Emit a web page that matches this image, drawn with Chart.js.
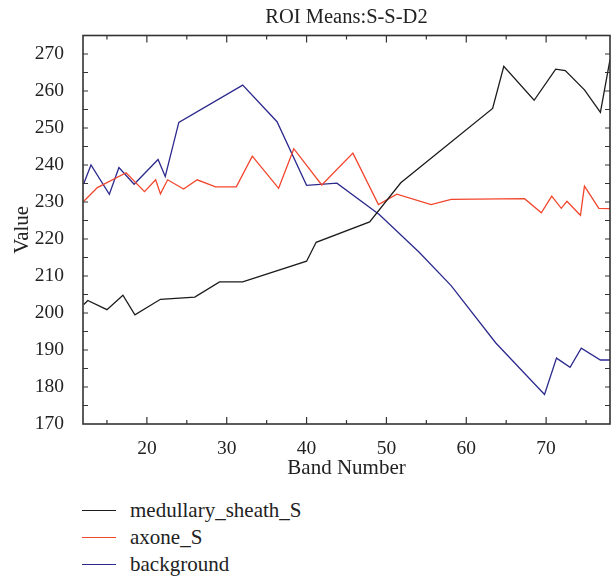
<!DOCTYPE html>
<html>
<head>
<meta charset="utf-8">
<script src="https://cdn.jsdelivr.net/npm/chart.js@4.4.1/dist/chart.umd.min.js"></script>
<style>
    body { margin: 0; background: #fff; }
    #wrap { position: relative; width: 611px; height: 580px; }
    #chartBox { position: absolute; left: 0; top: 0; width: 611px; height: 490px; }
    #legend { position: absolute; left: 82px; top: 497px; font-family: 'Liberation Serif', serif; font-size: 21px; color: #222; }
    #legend div { display: flex; align-items: center; height: 27px; }
    #legend span.swatch { display: inline-block; width: 34px; height: 0; border-top: 1.4px solid; margin-right: 14px; }
</style>
</head>
<body>
<div id="wrap">
    <div id="chartBox"><canvas id="roiChart"></canvas></div>
    <div id="legend"></div>
</div>
<script>
// band numbers / values
const sheathBands = [12.1, 12.6, 15.0, 17.0, 18.5, 21.7, 26.0, 29.1, 32.0, 40.0, 41.2, 47.9, 51.8, 63.3, 64.7, 68.5, 71.2, 72.4, 74.8, 76.8, 78.0];
const sheathValues = [202.3, 203.4, 200.9, 204.8, 199.5, 203.7, 204.3, 208.4, 208.4, 214.0, 219.1, 224.6, 235.2, 255.3, 266.7, 257.5, 265.9, 265.5, 260.3, 254.2, 268.5];

const axoneBands = [12.1, 13.8, 17.4, 19.7, 21.1, 21.7, 22.6, 24.6, 26.3, 28.6, 31.2, 33.2, 36.5, 38.4, 41.9, 45.8, 49.0, 51.3, 55.6, 58.1, 67.3, 69.4, 70.7, 71.9, 72.6, 74.3, 74.8, 76.6, 78.0];
const axoneValues = [230.2, 233.9, 237.9, 232.8, 236.0, 232.2, 236.0, 233.5, 236.0, 234.1, 234.1, 242.4, 233.7, 244.4, 234.6, 243.2, 229.3, 232.1, 229.3, 230.7, 230.9, 227.1, 231.6, 228.3, 230.2, 226.4, 234.3, 228.3, 228.2];

const backgroundBands = [12.1, 13.0, 15.3, 16.5, 18.4, 21.4, 22.3, 24.0, 32.0, 36.3, 40.0, 43.8, 49.1, 54.1, 58.1, 63.7, 69.8, 71.3, 73.0, 74.4, 76.8, 78.0];
const backgroundValues = [235.0, 240.0, 232.1, 239.3, 234.8, 241.5, 236.9, 251.5, 261.6, 251.7, 234.5, 235.1, 226.6, 216.4, 207.4, 191.9, 178.0, 187.8, 185.3, 190.5, 187.3, 187.3];

const xTickLabels = [20, 30, 40, 50, 60, 70];
const yTickLabels = [170, 180, 190, 200, 210, 220, 230, 240, 250, 260, 270];

const seriesNames = ['medullary_sheath_S', 'axone_S', 'background'];
const seriesColors = ['#1c1c1c', '#f2452c', '#2d2a8e'];

const serif = "'Liberation Serif', 'DejaVu Serif', serif";

function toPoints(bands, values) {
    return bands.map((b, i) => ({ x: b, y: values[i] }));
}

// frame with inward ticks on all four sides (minor ticks every 5)
const frameTicks = {
    id: 'frameTicks',
    afterDraw(chart) {
        const { ctx, chartArea: a, scales } = chart;
        const xs = scales.x, ys = scales.y;
        ctx.save();
        ctx.strokeStyle = '#333';
        ctx.lineWidth = 1.2;
        ctx.beginPath();
        for (let v = 15; v <= 75; v += 5) {
            const px = xs.getPixelForValue(v);
            const len = v % 10 === 0 ? 7 : 4;
            ctx.moveTo(px, a.bottom); ctx.lineTo(px, a.bottom - len);
            ctx.moveTo(px, a.top); ctx.lineTo(px, a.top + len);
        }
        for (let v = 175; v <= 270; v += 5) {
            const py = ys.getPixelForValue(v);
            ctx.moveTo(a.left, py); ctx.lineTo(a.left + 5, py);
            ctx.moveTo(a.right, py); ctx.lineTo(a.right - 5, py);
        }
        ctx.stroke();
        ctx.lineWidth = 1.6;
        ctx.strokeRect(a.left, a.top, a.right - a.left, a.bottom - a.top);
        ctx.restore();
    }
};

const datasets = [
    toPoints(sheathBands, sheathValues),
    toPoints(axoneBands, axoneValues),
    toPoints(backgroundBands, backgroundValues)
].map((pts, i) => ({
    label: seriesNames[i],
    data: pts,
    borderColor: seriesColors[i],
    backgroundColor: seriesColors[i],
    borderWidth: 1.3,
    pointRadius: 0,
    tension: 0
}));

new Chart(document.getElementById('roiChart').getContext('2d'), {
    type: 'line',
    data: { datasets: datasets },
    options: {
        responsive: true,
        maintainAspectRatio: false,
        animation: false,
        layout: { padding: { left: 0, right: 1, top: 0, bottom: 0 } },
        plugins: {
            legend: { display: false },
            tooltip: { enabled: false },
            title: {
                display: true,
                fullSize: false, // centre over the plot, not the canvas
                text: 'ROI Means:S-S-D2',
                color: '#222',
                font: { family: serif, size: 20.5, weight: 'normal' },
                padding: { top: 5.7, bottom: 5.2 }
            }
        },
        scales: {
            x: {
                type: 'linear',
                min: 12,
                max: 78,
                grid: { display: false },
                border: { display: false },
                afterBuildTicks: axis => { axis.ticks = xTickLabels.map(v => ({ value: v })); },
                afterFit: axis => { axis.height = 66; },
                ticks: { color: '#222', padding: 5, maxRotation: 0, font: { family: serif, size: 19.5 } },
                title: { display: true, text: 'Band Number', color: '#222', padding: { top: 0, bottom: 9 }, font: { family: serif, size: 21 } }
            },
            y: {
                type: 'linear',
                min: 170,
                max: 275,
                grid: { display: false },
                border: { display: false },
                afterBuildTicks: axis => { axis.ticks = yTickLabels.map(v => ({ value: v })); },
                afterFit: axis => { axis.width = 83; },
                ticks: { color: '#222', padding: 11, font: { family: serif, size: 19.5 } },
                title: { display: true, text: 'Value', color: '#222', padding: { top: 9.6, bottom: 0 }, font: { family: serif, size: 21 } }
            }
        }
    },
    plugins: [frameTicks]
});

// stacked legend below the plot
const legendBox = document.getElementById('legend');
seriesNames.forEach((name, i) => {
    const row = document.createElement('div');
    const sw = document.createElement('span');
    sw.className = 'swatch';
    sw.style.borderColor = seriesColors[i];
    row.appendChild(sw);
    row.appendChild(document.createTextNode(name));
    legendBox.appendChild(row);
});
</script>
</body>
</html>
